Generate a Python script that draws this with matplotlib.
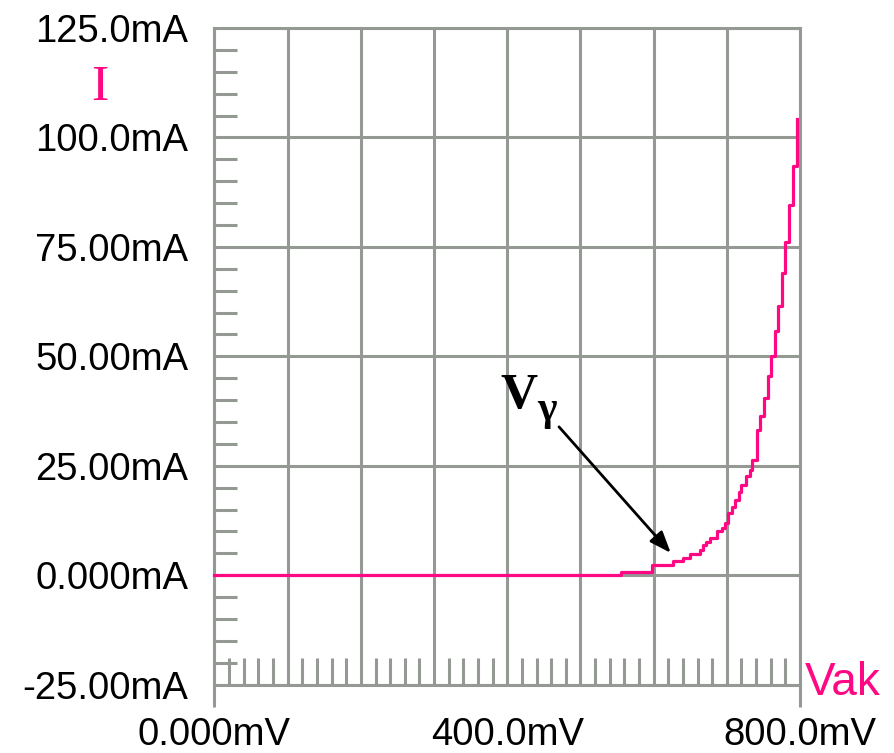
import matplotlib
matplotlib.use("Agg")
import matplotlib.pyplot as plt
from matplotlib import font_manager as fm
from matplotlib.ticker import MultipleLocator, FixedLocator, FixedFormatter

# ---- data ----
vak_mV = [0, 556, 598, 627, 640, 650, 663, 667, 672, 677,
          687, 693, 697, 701, 707, 711, 716, 720, 726, 731,
          735, 741, 746, 751, 756, 760, 766, 770, 775, 780,
          785, 791, 795.5]
i_mA = [0, 0.7, 2.4, 3.15, 4.05, 4.85, 5.8, 7.0, 7.7, 8.5,
        10.0, 10.8, 11.9, 14.2, 15.7, 17.2, 19.1, 20.7, 22.6, 24.1,
        26.4, 33.2, 36.4, 40.6, 45.4, 50.1, 55.9, 61.6, 69.0, 76.2,
        84.6, 93.5, 104.3]

x_ticks = [0, 100, 200, 300, 400, 500, 600, 700, 800]
x_labels = ["0.000mV", "", "", "", "400.0mV", "", "", "", "800.0mV"]
y_ticks = [-25, 0, 25, 50, 75, 100, 125]
y_labels = ["-25.00mA", "0.000mA", "25.00mA", "50.00mA", "75.00mA", "100.0mA", "125.0mA"]

GRAY = "#949994"
PINK = "#FF0883"

avail = {f.name for f in fm.fontManager.ttflist}
if "Liberation Sans Narrow" in avail:
    tick_font, tick_size = "Liberation Sans Narrow", 31
else:
    tick_font, tick_size = "Liberation Sans", 27.5

fig = plt.figure(figsize=(8.95, 7.53), dpi=100)
ax = fig.add_axes([214.5 / 895, 1 - 684.7 / 753, (800 - 214.5) / 895, (684.7 - 28) / 753])

ax.set_xlim(0, 800)
ax.set_ylim(-25, 125)

# grid
ax.xaxis.set_major_locator(FixedLocator(x_ticks))
ax.xaxis.set_major_formatter(FixedFormatter(x_labels))
ax.yaxis.set_major_locator(FixedLocator(y_ticks))
ax.yaxis.set_major_formatter(FixedFormatter(y_labels))
ax.xaxis.set_minor_locator(MultipleLocator(20))
ax.yaxis.set_minor_locator(MultipleLocator(5))
ax.grid(True, which="major", color=GRAY, linewidth=2.2)
ax.set_axisbelow(True)

ax.tick_params(axis="both", which="major", length=0, labelsize=tick_size)
ax.tick_params(axis="x", which="major", pad=23)
ax.tick_params(axis="y", which="major", pad=19)
ax.tick_params(axis="x", which="minor", direction="in", length=19.5, width=2.2, color=GRAY)
ax.tick_params(axis="y", which="minor", direction="in", length=16.5, width=2.2, color=GRAY)
for lab in ax.get_xticklabels() + ax.get_yticklabels():
    lab.set_fontfamily(tick_font)
    lab.set_color("black")

for sp in ax.spines.values():
    sp.set_color(GRAY)
    sp.set_linewidth(2.2)

# spine extensions below the x axis
ext = 22 / 656.7
ax.plot([0, 0], [0, -ext], transform=ax.transAxes, color=GRAY, lw=2.2, clip_on=False, solid_capstyle="butt")
ax.plot([1, 1], [0, -ext], transform=ax.transAxes, color=GRAY, lw=2.2, clip_on=False, solid_capstyle="butt")

# curve
ax.plot(vak_mV, i_mA, drawstyle="steps-post", color=PINK, lw=2.3, zorder=5, clip_on=False)

# axis names
fig.text(100 / 895, 1 - 100 / 753, "I", color=PINK, fontfamily="Liberation Serif",
         fontsize=37, ha="center", va="baseline")
ax.text(806.8, -27.3, "Vak", color=PINK, fontfamily="Liberation Sans", fontsize=33,
        ha="left", va="baseline", clip_on=False)

# V_gamma annotation
ax.text(390, 38.3, "V", fontfamily="Liberation Serif", fontweight="bold", fontsize=37,
        ha="left", va="baseline")
ax.text(441, 35.5, "γ", fontfamily="Liberation Serif", fontweight="bold", fontsize=30,
        ha="left", va="baseline")
ax.annotate("", xy=(623.4, 5.1), xytext=(470.7, 33.9),
            arrowprops=dict(arrowstyle="-|>,head_length=1.3,head_width=0.5",
                            color="black", lw=2, shrinkA=0, shrinkB=0), zorder=6)

fig.savefig("out.png", dpi=100)
